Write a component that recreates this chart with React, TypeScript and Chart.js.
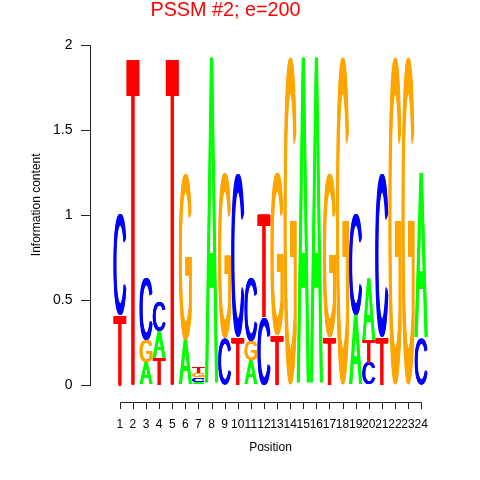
import { useEffect, useRef } from "react";
import { Chart, registerables } from "chart.js";

Chart.register(...registerables);

// ---- data ----
const positions = [1, 2, 3, 4, 5, 6, 7, 8, 9, 10, 11, 12, 13, 14, 15, 16, 17, 18, 19, 20, 21, 22, 23, 24];
// letters of each column, from bottom to top
const stackOrder = ["TC", "T", "AGC", "TAC", "T", "AG", "ACGT", "A", "CG", "TC", "AGC", "CT", "TG", "G", "A", "A", "TG", "G", "AC", "CTA", "TC", "G", "G", "CA"];
const heightA = [0, 0, 0.135, 0.155, 0, 0.265, 0.02, 1.93, 0, 0, 0.147, 0, 0, 0, 1.93, 1.93, 0, 0, 0.41, 0.36, 0, 0, 0, 0.97];
const heightC = [0.6, 0, 0.365, 0.18, 0, 0, 0.025, 0, 0.275, 0.965, 0.37, 0.4, 0, 0, 0, 0, 0, 0, 0.6, 0.13, 0.965, 0, 0, 0.275];
const heightG = [0, 0, 0.13, 0, 0, 0.98, 0.025, 0, 0.97, 0, 0.115, 0, 0.955, 1.93, 0, 0, 0.965, 1.93, 0, 0, 0, 1.93, 1.93, 0];
const heightT = [0.41, 1.93, 0, 0.16, 1.93, 0, 0.038, 0, 0, 0.28, 0, 0.61, 0.29, 0, 0, 0, 0.28, 0, 0, 0.135, 0.28, 0, 0, 0];
const yTicks = [0, 0.5, 1, 1.5, 2];

const titleText = "PSSM #2; e=200";
const xTitle = "Position";
const yTitle = "Information content";

const letterColors: Record<string, string> = {
  A: "#00FF00",
  C: "#0000FF",
  G: "#FFA500",
  T: "#FF0000",
};

const heights: Record<string, number[]> = { A: heightA, C: heightC, G: heightG, T: heightT };

function buildDatasets() {
  const maxRank = Math.max(...stackOrder.map((s) => s.length));
  const out: any[] = [];
  for (let r = 0; r < maxRank; r++) {
    const data: any[] = [];
    const letters: string[] = [];
    positions.forEach((p, i) => {
      const ch = stackOrder[i][r];
      if (ch) {
        data.push({ x: p, y: heights[ch][i] });
        letters.push(ch);
      }
    });
    out.push({
      label: "rank" + (r + 1),
      data,
      letters,
      backgroundColor: "rgba(0,0,0,0)",
      borderWidth: 0,
      barPercentage: 1,
      categoryPercentage: 1,
    });
  }
  return out;
}

const FONT = "'Liberation Sans', Arial, Helvetica, sans-serif";
const GLYPH_FONT_SIZE = 200;
const GLYPH_FONT = "normal " + GLYPH_FONT_SIZE + "px " + FONT;

const boundsCache: Record<string, { left: number; right: number; top: number; bottom: number }> = {};

function glyphBounds(ch: string) {
  if (boundsCache[ch]) return boundsCache[ch];
  const c = document.createElement("canvas");
  c.width = 400;
  c.height = 400;
  const g = c.getContext("2d")!;
  g.font = GLYPH_FONT;
  g.textAlign = "left";
  g.textBaseline = "alphabetic";
  g.fillStyle = "#000";
  const ox = 100;
  const oy = 300;
  g.fillText(ch, ox, oy);
  const img = g.getImageData(0, 0, 400, 400).data;
  let minX = 400, maxX = -1, minY = 400, maxY = -1;
  for (let yy = 0; yy < 400; yy++) {
    for (let xx = 0; xx < 400; xx++) {
      if (img[(yy * 400 + xx) * 4 + 3] > 40) {
        if (xx < minX) minX = xx;
        if (xx > maxX) maxX = xx;
        if (yy < minY) minY = yy;
        if (yy > maxY) maxY = yy;
      }
    }
  }
  const b = { left: minX - ox, right: maxX + 1 - ox, top: minY - oy, bottom: maxY + 1 - oy };
  boundsCache[ch] = b;
  return b;
}

function drawGlyph(ctx: CanvasRenderingContext2D, ch: string, x: number, y: number, w: number, h: number, color: string) {
  if (h <= 0.2 || w <= 0) return;
  const b = glyphBounds(ch);
  const bw = b.right - b.left;
  const bh = b.bottom - b.top;
  const t = 0.7; // horizontal stroke thickening in px
  const iw = w - 2 * t;
  ctx.save();
  ctx.font = GLYPH_FONT;
  ctx.textAlign = "left";
  ctx.textBaseline = "alphabetic";
  ctx.fillStyle = color;
  for (const dx of [-t, -t / 2, 0, t / 2, t]) {
    ctx.save();
    ctx.translate(x + t + dx, y);
    ctx.scale(iw / bw, h / bh);
    ctx.fillText(ch, -b.left, -b.top);
    ctx.restore();
  }
  ctx.restore();
}

const logoPlugin = {
  id: "logoLetters",
  afterDatasetsDraw(chart: any) {
    const ctx = chart.ctx as CanvasRenderingContext2D;
    chart.data.datasets.forEach((ds: any, di: number) => {
      const meta = chart.getDatasetMeta(di);
      meta.data.forEach((bar: any, j: number) => {
        const { x, y, base, width } = bar.getProps(["x", "y", "base", "width"], true);
        const ch = ds.letters[j];
        const top = Math.min(y, base);
        const h = Math.abs(base - y);
        drawGlyph(ctx, ch, x - width / 2, top, width, h, letterColors[ch]);
      });
    });
  },
};

// R-style x axis (line from first to last position, below the plot) and y axis title
const rAxisPlugin = {
  id: "rAxis",
  afterDraw(chart: any) {
    const ctx = chart.ctx as CanvasRenderingContext2D;
    const xs = chart.scales.x;
    const ys = chart.scales.y;
    const yLine = chart.chartArea.bottom + 17;
    ctx.save();
    ctx.strokeStyle = "#222";
    ctx.lineWidth = 1;
    ctx.beginPath();
    const x0 = Math.round(xs.getPixelForValue(positions[0])) + 0.5;
    const x1 = Math.round(xs.getPixelForValue(positions[positions.length - 1])) + 0.5;
    ctx.moveTo(x0, yLine + 0.5);
    ctx.lineTo(x1, yLine + 0.5);
    positions.forEach((p) => {
      const px = Math.round(xs.getPixelForValue(p)) + 0.5;
      ctx.moveTo(px, yLine + 0.5);
      ctx.lineTo(px, yLine + 7);
    });
    ctx.stroke();

    // y axis title, centred like R's plot region
    const cy = ys.getPixelForValue(1.06);
    ctx.translate(37, cy);
    ctx.rotate(-Math.PI / 2);
    ctx.fillStyle = "#000";
    ctx.font = "12px " + FONT;
    ctx.textAlign = "center";
    ctx.textBaseline = "middle";
    ctx.fillText(yTitle, 0, 0);
    ctx.restore();
  },
};

export default function App() {
  const canvasRef = useRef<HTMLCanvasElement | null>(null);

  useEffect(() => {
    if (!canvasRef.current) return;
    Chart.defaults.font.family = FONT;
    const chart = new Chart(canvasRef.current, {
      type: "bar",
      data: { datasets: buildDatasets() },
      options: {
        responsive: false,
        animation: false,
        layout: { padding: { top: 0, left: 0, right: 29, bottom: 0 } },
        plugins: {
          legend: { display: false },
          tooltip: { enabled: false },
          title: {
            display: true,
            text: titleText,
            color: "#FF0000",
            font: { size: 19.8, weight: "normal", family: FONT, lineHeight: 1 },
            padding: { top: 0.5, bottom: 24.7 },
          },
        },
        scales: {
          x: {
            type: "linear",
            stacked: true,
            min: -0.7045,
            max: 25.705,
            afterBuildTicks: (scale: any) => {
              scale.ticks = positions.map((v) => ({ value: v }));
            },
            afterFit: (scale: any) => {
              scale.height = 95;
            },
            grid: { display: false, drawTicks: false },
            border: { display: false },
            ticks: {
              autoSkip: false,
              maxRotation: 0,
              minRotation: 0,
              padding: 32,
              color: "#000",
              font: { size: 12 },
              callback: (v: any) => String(v),
            },
            title: {
              display: true,
              text: xTitle,
              color: "#000",
              font: { size: 12 },
              padding: { top: 0, bottom: 24.8 },
            },
          },
          y: {
            stacked: true,
            min: 0,
            max: 2,
            afterBuildTicks: (scale: any) => {
              scale.ticks = yTicks.map((v) => ({ value: v }));
            },
            afterFit: (scale: any) => {
              scale.width = 90;
            },
            grid: { display: true, drawOnChartArea: false, drawTicks: true, tickLength: 9, color: "#222" },
            border: { display: true, color: "#222" },
            ticks: {
              padding: 8.5,
              color: "#000",
              font: { size: 14 },
              callback: (v: any) => String(v),
            },
            title: { display: false },
          },
        },
      } as any,
      plugins: [logoPlugin, rAxisPlugin],
    });
    return () => chart.destroy();
  }, []);

  return (
    <div style={{ position: "absolute", left: 0, top: 0, width: 480, height: 480, background: "#fff" }}>
      <canvas ref={canvasRef} width={480} height={480} style={{ display: "block" }} />
    </div>
  );
}
